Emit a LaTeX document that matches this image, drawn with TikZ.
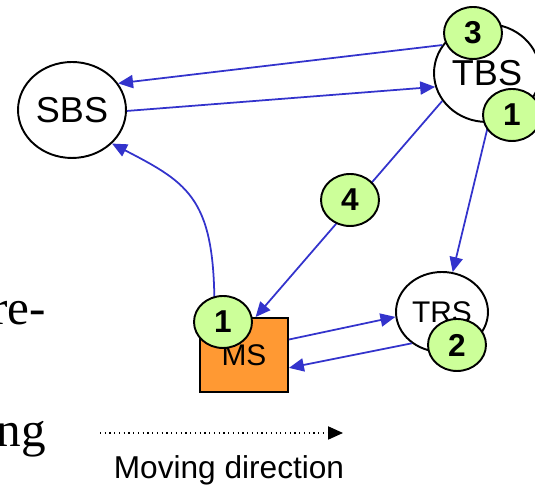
\documentclass[tikz,border=0pt]{standalone}
\usepackage{fontspec}
\setmainfont{Liberation Serif}
\setsansfont{Liberation Sans}
\usepackage{tikz}
\usepackage{xcolor}
\usetikzlibrary{positioning, arrows.meta, shapes}

\definecolor{linkblue}{HTML}{3333CC}
\definecolor{msorange}{HTML}{FF9933}
\definecolor{tagGreen}{HTML}{CCFF99}

\begin{document}
\begin{tikzpicture}[x=0.02cm, y=0.02cm,
        station/.style={ellipse, draw, line width=1.1pt, inner sep=0pt, font=\sffamily\fontsize{20.5}{24}\selectfont},
        tag/.style={ellipse, draw, line width=1.1pt, fill=tagGreen, inner sep=0pt, minimum width=1.16cm, minimum height=1.04cm, font=\sffamily\bfseries\fontsize{18}{20}\selectfont},
        link/.style={-{Triangle[length=8.5pt, width=7.5pt]}, linkblue, line width=1pt}]
            \useasboundingbox (0, 0) rectangle (535, 489);

            \node[station, minimum width=2.16cm, minimum height=1.92cm] (sbs) at (72, 379) {SBS};
            \node[station, minimum width=2.12cm, minimum height=1.96cm] (tbs) at (487, 416) {TBS};
            \node[station, minimum width=1.84cm, minimum height=1.6cm, font=\sffamily\fontsize{17}{20}\selectfont] (trs) at (442, 177) {TRS};
            \node[draw, line width=1.1pt, fill=msorange, minimum width=1.76cm, minimum height=1.48cm, font=\sffamily\fontsize{17}{20}\selectfont] (ms) at (244, 134) {MS};

            \draw[link] (tbs.148) -- (sbs.30);
            \draw[link] (sbs.-1) -- (tbs.195);
            \draw[link] (ms.128) .. controls (216, 290) and (190, 305) .. (sbs.-40);
            \draw[link] (tbs.212) -- (ms.73);
            \draw[link] (tbs.272) -- (trs.75);
            \draw[link] (ms.19) -- (trs.186);
            \draw[link] (trs.226) -- (ms.-16);

            \node[tag] (t3) at (473, 456) {3};
            \node[tag] (t1a) at (512, 374) {1};
            \node[tag] (t4) at (350, 289) {4};
            \node[tag] (t1b) at (223, 167) {1};
            \node[tag] (t2) at (457, 144) {2};

            % moving direction
            \coordinate (mvstart) at (100, 56);
            \coordinate (mvend) at (343, 56);
            \draw[-{Triangle[length=8.5pt, width=7.5pt]}, dotted, line width=0.7pt] (mvstart) -- (mvend);
            \node[font=\sffamily\fontsize{18}{21}\selectfont] (mvlabel) at (229, 19) {Moving direction};

            % cut-off slide text
            \node[anchor=base east, inner sep=0pt, font=\fontsize{28}{32}\selectfont] (pre) at (46, 164) {re-};
            \node[anchor=base east, inner sep=0pt, font=\fontsize{28}{32}\selectfont] (ng) at (46, 42) {ng};
        \end{tikzpicture}
\end{document}
